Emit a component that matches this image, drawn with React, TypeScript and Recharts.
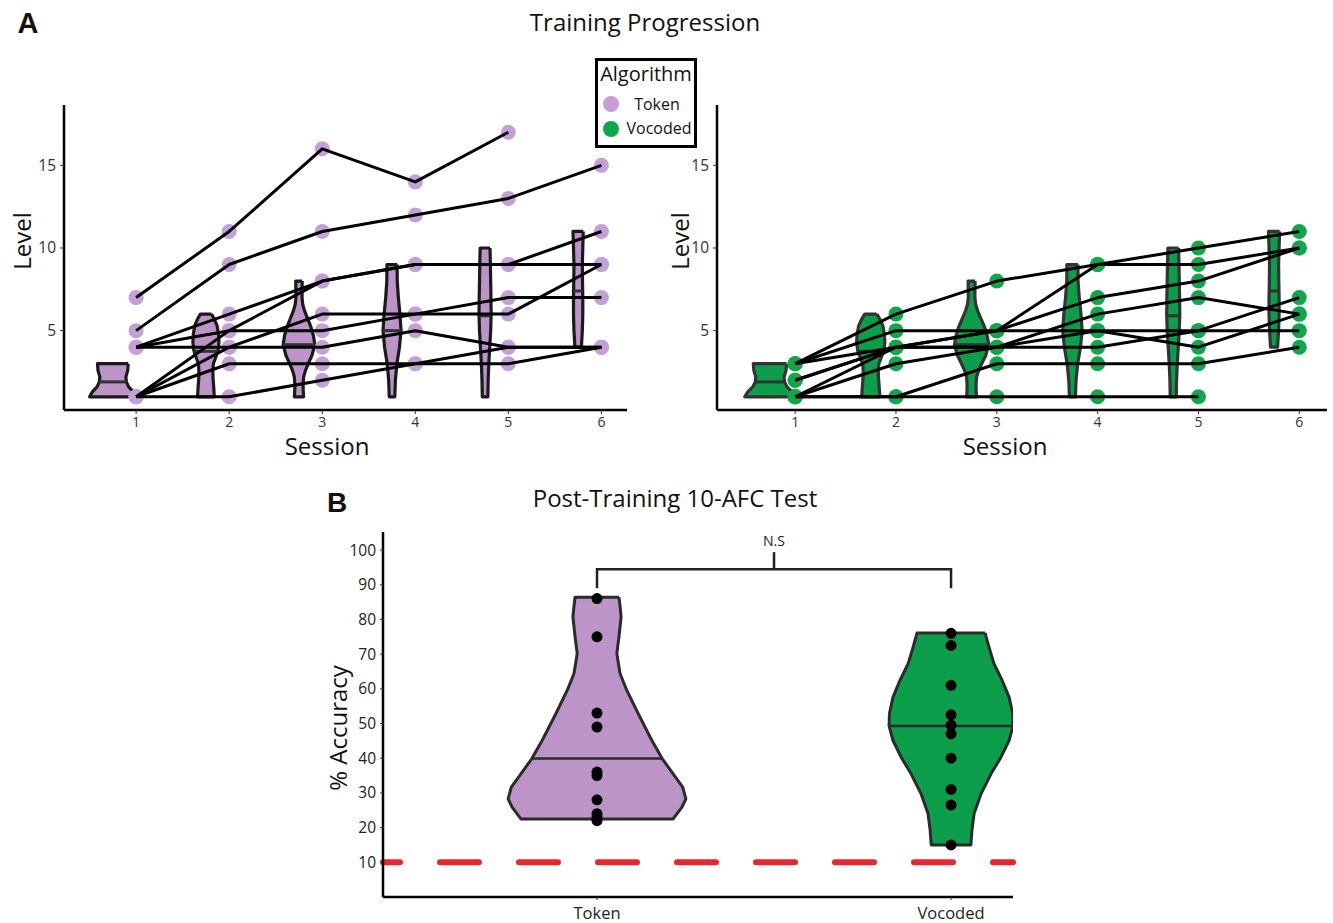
import React from "react";
import { ScatterChart, Scatter, XAxis, YAxis, ReferenceLine, ReferenceDot } from "recharts";

// ---- panel A data ----
const sessions = [1, 2, 3, 4, 5, 6];
const levelTicks = [5, 10, 15];

// level reached per participant, sessions 1-6 (null = no session)
const tokenLevels = [
  [7, 11, 16, 14, 17, null],
  [5, 9, 11, 12, 13, 15],
  [4, 6, 8, 9, 9, 11],
  [4, 5, 5, 6, 7, 7],
  [4, 4, 6, 6, 6, 9],
  [1, 4, 4, 5, 4, 4],
  [1, 3, 3, 3, 3, 4],
  [1, 1, 2, 3, 4, 4],
  [1, 5, 8, 9, 9, 9],
];

const vocodedLevels = [
  [3, 6, 8, 9, 10, 11],
  [3, 5, 5, 9, 9, 10],
  [3, 4, 5, 7, 8, 10],
  [2, 4, 4, 6, 7, 6],
  [1, 4, 4, 5, 4, 6],
  [1, 3, 4, 4, 5, 7],
  [1, 1, 3, 3, 3, 4],
  [1, 1, 1, 1, 1, null],
  [2, 4, 5, 5, 5, 5],
];

// violin outlines per session: [level, half width (sessions)], top to bottom
const violinS1 = [[3, 0.165], [2.6, 0.16], [2.2, 0.14], [1.9, 0.145], [1.6, 0.17], [1.3, 0.22], [1, 0.25]];
const violinS2 = [[6, 0.06], [5.7, 0.09], [5.3, 0.12], [4.8, 0.135], [4.3, 0.14], [3.8, 0.13], [3.3, 0.1], [3, 0.08], [2.5, 0.075], [2, 0.078], [1.5, 0.085], [1, 0.09]];
const violinS3 = [[8, 0.035], [7.5, 0.033], [7, 0.033], [6.6, 0.04], [6.2, 0.06], [5.7, 0.095], [5.2, 0.13], [4.7, 0.155], [4.15, 0.17], [3.5, 0.14], [3, 0.1], [2.6, 0.07], [2.2, 0.05], [1.8, 0.045], [1.4, 0.045], [1, 0.05]];
const violinS4 = [[9, 0.055], [8, 0.056], [7, 0.068], [6, 0.085], [5, 0.097], [4, 0.08], [3, 0.052], [2, 0.036], [1, 0.03]];
const violinS5 = [[10, 0.053], [9, 0.057], [8, 0.06], [7, 0.063], [6, 0.065], [5, 0.06], [4, 0.05], [3, 0.04], [2, 0.033], [1, 0.03]];
const violinS6 = [[11, 0.055], [10, 0.05], [9, 0.045], [8, 0.047], [7, 0.05], [6, 0.05], [5, 0.045], [4, 0.035]];
const sessionViolins = [violinS1, violinS2, violinS3, violinS4, violinS5, violinS6];
const sessionMedians = [1.9, 3.75, 4.15, 5.0, 5.9, 7.4];

// ---- panel B data ----
const groups = ["Token", "Vocoded"];
const accTicks = [10, 20, 30, 40, 50, 60, 70, 80, 90, 100];
const tokenAcc = [86, 75, 53, 49, 36, 35, 28, 24, 23, 22];
const vocodedAcc = [76, 72.5, 61, 52.5, 49.5, 47, 40, 31, 26.5, 15];
const tokenAccViolin = [[86.4, 0.062], [83, 0.066], [80.7, 0.068], [75, 0.062], [70.2, 0.056], [64.4, 0.065], [59.6, 0.084], [52.9, 0.116], [45.1, 0.155], [39.9, 0.184], [35.5, 0.215], [31.7, 0.242], [28.3, 0.251], [25.9, 0.24], [22.5, 0.215]];
const vocodedAccViolin = [[76.1, 0.096], [72.1, 0.107], [67.3, 0.121], [62.5, 0.144], [57.6, 0.164], [52.9, 0.174], [49.3, 0.175], [45.1, 0.164], [40.3, 0.141], [35.5, 0.113], [29.8, 0.085], [24, 0.065], [19.2, 0.059], [15, 0.056]];
const accMedians = [39.9, 49.3];
const chanceLevel = 10;
const bracketLow = 89;
const bracketHigh = 94.5;
const bracketTop = 99.4;

const PURPLE = "#bc94c8";
const PURPLE_PT = "#c4a0d6";
const GREEN = "#0d9e4b";
const GREEN_PT = "#12a64c";
const FONT = "'Open Sans', sans-serif";

const emptyShape = () => <g />;
const dot = (r: number, fill: string) => (p: any) => <circle cx={p.cx} cy={p.cy} r={r} fill={fill} />;

function violinPoints(center: number, profile: number[][]) {
  const right = profile.map(([y, w]) => ({ x: center + w, y }));
  const left = profile.slice().reverse().map(([y, w]) => ({ x: center - w, y }));
  return [...right, ...left, right[0]];
}

function widthAt(profile: number[][], level: number) {
  for (let i = 0; i < profile.length - 1; i++) {
    const [y0, w0] = profile[i];
    const [y1, w1] = profile[i + 1];
    if (level <= y0 && level >= y1) return w0 + ((w1 - w0) * (y0 - level)) / (y0 - y1);
  }
  return profile[profile.length - 1][1];
}

const axisLine = { stroke: "#000", strokeWidth: 2.5 };
const tickLine = { stroke: "#333", strokeWidth: 1 };

function ProgressPanel({ levels, fill, pointFill, stroke, yWidth, width }: any) {
  const tracks = levels.map((row: (number | null)[]) =>
    row.map((y, i) => ({ x: sessions[i], y })).filter((d) => d.y !== null)
  );
  const pts = tracks.flat();
  return (
    <ScatterChart width={width} height={470} margin={{ top: 105, right: 6, bottom: 30, left: 0 }}>
      <XAxis
        type="number"
        dataKey="x"
        domain={[0.225, 6.275]}
        ticks={sessions}
        allowDataOverflow
        height={30}
        axisLine={axisLine}
        tickLine={tickLine}
        tickSize={4}
        tickMargin={3}
        tick={{ fill: "#333", fontSize: 14 }}
      />
      <YAxis
        type="number"
        dataKey="y"
        domain={[0.2, 18.65]}
        ticks={levelTicks}
        allowDataOverflow
        width={yWidth}
        axisLine={axisLine}
        tickLine={tickLine}
        tickSize={4}
        tickMargin={4}
        tick={{ fill: "#333", fontSize: 15.5 }}
      />
      {sessionViolins.map((p, i) => (
        <Scatter
          key={`v${i}`}
          data={violinPoints(sessions[i] - 0.25, p)}
          shape={emptyShape}
          line={{ fill, stroke, strokeWidth: 3.2, strokeLinejoin: "round" }}
          isAnimationActive={false}
        />
      ))}
      {sessionMedians.map((m, i) => {
        const w = widthAt(sessionViolins[i], m);
        const c = sessions[i] - 0.25;
        return (
          <Scatter
            key={`m${i}`}
            data={[{ x: c - w, y: m }, { x: c + w, y: m }]}
            shape={emptyShape}
            line={{ stroke: "#333", strokeWidth: 3 }}
            isAnimationActive={false}
          />
        );
      })}
      <Scatter data={pts} shape={dot(7.5, pointFill)} isAnimationActive={false} />
      {tracks.map((t: any, i: number) => (
        <Scatter
          key={`t${i}`}
          data={t}
          shape={emptyShape}
          line={{ stroke: "#000", strokeWidth: 3, strokeLinejoin: "round" }}
          isAnimationActive={false}
        />
      ))}
    </ScatterChart>
  );
}

function AccuracyPanel() {
  const sets = [
    { vals: tokenAcc, prof: tokenAccViolin, fill: PURPLE },
    { vals: vocodedAcc, prof: vocodedAccViolin, fill: GREEN },
  ];
  return (
    <ScatterChart width={740} height={443} margin={{ top: 52, right: 27, bottom: 0, left: 0 }}>
      <XAxis
        type="number"
        dataKey="x"
        domain={[0.3955, 2.175]}
        ticks={[1, 2]}
        tickFormatter={(v: number) => groups[v - 1]}
        allowDataOverflow
        height={26}
        axisLine={axisLine}
        tickLine={tickLine}
        tickSize={3}
        tickMargin={7}
        tick={{ fill: "#222", fontSize: 16.5 }}
      />
      <YAxis
        type="number"
        dataKey="y"
        domain={[0, 105.2]}
        ticks={accTicks}
        allowDataOverflow
        width={83}
        axisLine={axisLine}
        tickLine={tickLine}
        tickSize={3}
        tickMargin={4}
        tick={{ fill: "#222", fontSize: 15.5 }}
      />
      <ReferenceLine
        y={chanceLevel}
        stroke="#e8262c"
        strokeWidth={6}
        strokeDasharray="39 40"
        strokeDashoffset={22}
        strokeLinecap="round"
      />
      {sets.map((s, i) => (
        <Scatter
          key={`bv${i}`}
          data={violinPoints(i + 1, s.prof)}
          shape={emptyShape}
          line={{ fill: s.fill, stroke: "#2b2b2b", strokeWidth: 3, strokeLinejoin: "round" }}
          isAnimationActive={false}
        />
      ))}
      {sets.map((s, i) => {
        const w = widthAt(s.prof, accMedians[i]);
        return (
          <Scatter
            key={`bm${i}`}
            data={[{ x: i + 1 - w, y: accMedians[i] }, { x: i + 1 + w, y: accMedians[i] }]}
            shape={emptyShape}
            line={{ stroke: "#2b2b2b", strokeWidth: 2.5 }}
            isAnimationActive={false}
          />
        );
      })}
      {sets.map((s, i) => (
        <Scatter
          key={`bp${i}`}
          data={s.vals.map((y) => ({ x: i + 1, y }))}
          shape={dot(5.5, "#000")}
          isAnimationActive={false}
        />
      ))}
      <Scatter
        data={[{ x: 1, y: bracketLow }, { x: 1, y: bracketHigh }, { x: 2, y: bracketHigh }, { x: 2, y: bracketLow }]}
        shape={emptyShape}
        line={{ stroke: "#222", strokeWidth: 2.5 }}
        isAnimationActive={false}
      />
      <Scatter
        data={[{ x: 1.5, y: bracketHigh }, { x: 1.5, y: bracketTop }]}
        shape={emptyShape}
        line={{ stroke: "#222", strokeWidth: 2.5 }}
        isAnimationActive={false}
      />
      <ReferenceDot
        x={1.5}
        y={102.5}
        r={0}
        stroke="none"
        label={{ value: "N.S", position: "center", fill: "#222", fontSize: 14 }}
      />
    </ScatterChart>
  );
}

function Txt({ x, y, size, children, rotate, bold, family }: any) {
  return (
    <div
      style={{
        position: "absolute",
        left: x,
        top: y,
        transform: `translate(-50%, -50%)${rotate ? " rotate(-90deg)" : ""}`,
        fontSize: size,
        lineHeight: 1,
        whiteSpace: "nowrap",
        fontWeight: bold ? 700 : 400,
        fontFamily: family || FONT,
        color: "#111",
      }}
    >
      {children}
    </div>
  );
}

export default function App() {
  return (
    <div style={{ position: "absolute", left: 0, top: 0, width: 1333, height: 923, background: "#fff", fontFamily: FONT }}>
      <div style={{ position: "absolute", left: 0, top: 0 }}>
        <ProgressPanel levels={tokenLevels} fill={PURPLE} pointFill={PURPLE_PT} stroke="#1a1a1a" yWidth={64} width={633} />
      </div>
      <div style={{ position: "absolute", left: 650, top: 0 }}>
        <ProgressPanel levels={vocodedLevels} fill={GREEN} pointFill={GREEN_PT} stroke="#333" yWidth={67} width={683} />
      </div>
      <div style={{ position: "absolute", left: 300, top: 480 }}>
        <AccuracyPanel />
      </div>

      <Txt x={28} y={23} size={29} bold family="'Liberation Sans', Arial, sans-serif">A</Txt>
      <Txt x={337} y={503} size={28} bold family="'Liberation Sans', Arial, sans-serif">B</Txt>
      <Txt x={645} y={22} size={24}>Training Progression</Txt>
      <Txt x={675} y={498} size={24}>Post-Training 10-AFC Test</Txt>
      <Txt x={22} y={241} size={24} rotate>Level</Txt>
      <Txt x={680} y={241} size={24} rotate>Level</Txt>
      <Txt x={327} y={446} size={24}>Session</Txt>
      <Txt x={1005} y={446} size={24}>Session</Txt>
      <Txt x={338} y={728} size={24} rotate>% Accuracy</Txt>

      <div
        style={{
          position: "absolute",
          left: 595,
          top: 58,
          width: 102,
          height: 90,
          border: "3px solid #000",
          boxSizing: "border-box",
          background: "#fff",
        }}
      >
        <Txt x={48} y={13} size={20}>Algorithm</Txt>
        <div style={{ position: "absolute", left: 5, top: 35, width: 16, height: 16, borderRadius: 8, background: PURPLE_PT }} />
        <Txt x={59} y={43} size={16}>Token</Txt>
        <div style={{ position: "absolute", left: 5, top: 60, width: 16, height: 16, borderRadius: 8, background: GREEN_PT }} />
        <Txt x={61} y={67} size={16}>Vocoded</Txt>
      </div>
    </div>
  );
}
